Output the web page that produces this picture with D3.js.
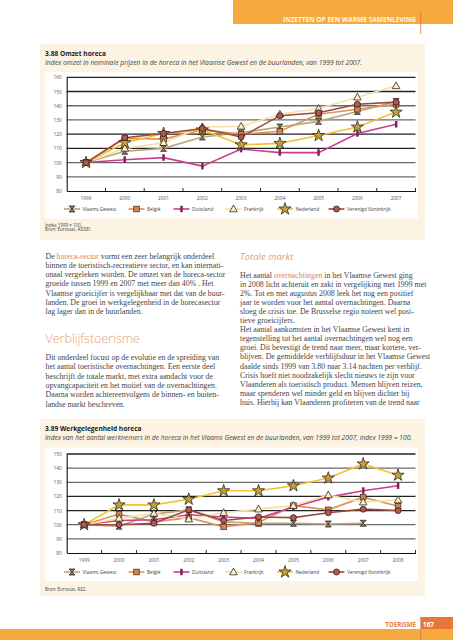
<!DOCTYPE html>
<html><head><meta charset="utf-8">
<script src="https://cdn.jsdelivr.net/npm/d3@7"></script>
<style>body{margin:0;background:#fff}svg{display:block}</style>
</head><body>
<svg id="page" width="453" height="640"></svg>
<script>
// ---------- DATA ----------
const seriesNames = ["Vlaams Gewest","België","Duitsland","Frankrijk","Nederland","Verenigd Koninkrijk"];
const years1 = ["1999","2000","2001","2002","2003","2004","2005","2006","2007"];
const omzetVlaams     = [100,108,110,118,121,125,129,136,143];
const omzetBelgie     = [100,117,116.5,123,120,122,134,137.5,141];
const omzetDuitsland  = [100,102,103.5,97.5,109.5,107,107,120.5,127];
const omzetFrankrijk  = [100,110,114,125,125.5,134,138,146,154];
const omzetNederland  = [100,114,120.5,123,112.5,113.5,119,125,135.5];
const omzetVK         = [100,117.5,120.5,124,118,133,135,141,142.5];
const yTicks1 = [80,90,100,110,120,130,140,150,160];

const years2 = ["1999","2000","2001","2002","2003","2004","2005","2006","2007","2008"];
const werkVlaams    = [100,99,107.5,110.5,102,101,101,100.5,101,null];
const werkBelgie    = [100,107.5,102,105,98.5,101.5,113.5,110.5,119.5,113];
const werkDuitsland = [100,103,103.5,107,105.5,104.5,112.5,119.5,124,127.5];
const werkFrankrijk = [100,104.5,108,104,108.5,111,113.5,121,116,117.5];
const werkNederland = [100,114,114,118,124,124,127.5,133,143,135];
const werkVK        = [100,100,101,110.5,103,105.5,105,108.5,111,110];
const yTicks2 = [80,90,100,110,120,130,140,150];

// ---------- STYLES ----------
const styles = [
  {line:"#bba67a", fill:"#8f7d52", stroke:"#2e2a20", shape:"bowtie"},
  {line:"#e0925a", fill:"#cf8655", stroke:"#5e3018", shape:"square"},
  {line:"#cc3d8f", fill:"#8a1f5c", stroke:"#6a1446", shape:"bar"},
  {line:"#f2e3a6", fill:"#f8efc6", stroke:"#2e2a20", shape:"triangle"},
  {line:"#f2c232", fill:"#c6a03a", stroke:"#2e2a20", shape:"star"},
  {line:"#a0473e", fill:"#b05a55", stroke:"#3e1512", shape:"circle"}
];
const ORANGE = "#f5a93f";
const svg = d3.select("#page");

function marker(g, shape, st, cx, cy){
  let el;
  if(shape==="bowtie"){
    el = g.append("path").attr("d",`M${cx-3},${cy-3}L${cx+3},${cy-3}L${cx-3},${cy+3}L${cx+3},${cy+3}Z`);
  } else if(shape==="square"){
    el = g.append("rect").attr("x",cx-2.8).attr("y",cy-2.8).attr("width",5.6).attr("height",5.6);
  } else if(shape==="bar"){
    el = g.append("rect").attr("x",cx-1).attr("y",cy-3).attr("width",2).attr("height",6);
  } else if(shape==="triangle"){
    el = g.append("path").attr("d",`M${cx},${cy-4}L${cx+3.8},${cy+2.8}L${cx-3.8},${cy+2.8}Z`);
  } else if(shape==="star"){
    const sym = d3.symbol().type(d3.symbolStar).size(46);
    el = g.append("path").attr("d",sym()).attr("transform",`translate(${cx},${cy})`);
  } else {
    el = g.append("circle").attr("cx",cx).attr("cy",cy).attr("r",3);
  }
  el.attr("fill",st.fill).attr("stroke",st.stroke).attr("stroke-width",shape==="bar"?0.4:0.8);
}

function chart(cfg){
  const g = svg.append("g");
  g.append("rect").attr("x",40).attr("y",cfg.boxTop).attr("width",385).attr("height",cfg.boxBottom-cfg.boxTop).attr("fill","#fdf3e2");
  g.append("rect").attr("x",45).attr("y",cfg.whiteTop).attr("width",373).attr("height",cfg.whiteBottom-cfg.whiteTop).attr("fill","#fff");
  g.append("text").attr("x",45).attr("y",cfg.boxTop+12).attr("font-family","Open Sans, sans-serif").attr("font-weight","bold")
    .attr("font-size",6.6).attr("fill","#222").text(cfg.title);
  g.append("text").attr("x",45).attr("y",cfg.boxTop+20.5).attr("font-family","Open Sans, sans-serif").attr("font-style","italic")
    .attr("font-size",6.3).attr("fill","#444").attr("textLength",cfg.subLen).attr("lengthAdjust","spacingAndGlyphs").text(cfg.subtitle);

  const x = d3.scaleBand().domain(cfg.years).range([66.7,415.5]);
  const y = d3.scaleLinear().domain([cfg.yTicks[0], cfg.yTicks[cfg.yTicks.length-1]]).range([cfg.y0, cfg.yTop]);
  g.append("g").selectAll("line").data(cfg.yTicks.slice(1)).join("line")
    .attr("x1",66.7).attr("x2",415.5).attr("y1",d=>y(d)).attr("y2",d=>y(d))
    .attr("stroke",(d,i)=> (Math.floor(i/2)%2===0 ? "#6a6a6a":"#222")).attr("stroke-width",1.3);
  const ay = g.append("g").attr("transform","translate(66.7,0)").call(d3.axisLeft(y).tickValues(cfg.yTicks).tickSize(0).tickPadding(5));
  ay.select(".domain").attr("stroke","#111").attr("stroke-width",1.1);
  ay.selectAll("text").attr("font-family","Open Sans, sans-serif").attr("font-size",4.8).attr("fill","#555");
  const ax = g.append("g").attr("transform",`translate(0,${cfg.y0})`).call(d3.axisBottom(x).tickSize(0).tickPadding(5.5));
  ax.select(".domain").attr("stroke","#111").attr("stroke-width",1.1);
  ax.selectAll("text").attr("font-family","Open Sans, sans-serif").attr("font-size",4.8).attr("fill","#555");
  g.append("g").selectAll("line").data(cfg.years).join("line")
    .attr("x1",d=>x(d)+x.bandwidth()).attr("x2",d=>x(d)+x.bandwidth())
    .attr("y1",cfg.y0).attr("y2",cfg.y0-3).attr("stroke","#111").attr("stroke-width",0.9);

  const cx = d=>x(d)+x.bandwidth()/2;
  cfg.series.forEach((vals,si)=>{
    const st = styles[si];
    const pts = cfg.years.map((yr,i)=>[yr,vals[i]]).filter(p=>p[1]!=null);
    const line = d3.line().x(p=>cx(p[0])).y(p=>y(p[1]));
    g.append("path").attr("d",line(pts)).attr("fill","none").attr("stroke",st.line).attr("stroke-width",1.6);
  });
  cfg.series.forEach((vals,si)=>{
    const st = styles[si];
    const mg = g.append("g");
    cfg.years.forEach((yr,i)=>{ if(vals[i]!=null) marker(mg, st.shape, st, cx(yr), y(vals[i])); });
  });

  const legX = [72,136.5,181.5,233.5,285,336.5];
  seriesNames.forEach((n,si)=>{
    const st = styles[si];
    const lg = g.append("g");
    const mx = legX[si], my = cfg.legY;
    lg.append("line").attr("x1",mx-8).attr("x2",mx+8).attr("y1",my).attr("y2",my).attr("stroke",st.line).attr("stroke-width",1.6);
    marker(lg, st.shape, st, mx, my);
    lg.append("text").attr("x",mx+10.5).attr("y",my+1.7).attr("font-family","Open Sans, sans-serif").attr("font-size",4.8).attr("fill","#444").text(n);
  });
  cfg.notes.forEach((t,i)=>{
    g.append("text").attr("x",45).attr("y",cfg.noteY+i*4.8).attr("font-family","Open Sans, sans-serif").attr("font-size",4.5).attr("fill","#444").text(t);
  });
}

// ---------- HEADER / FOOTER ----------
svg.append("rect").attr("x",233).attr("y",0).attr("width",220).attr("height",24).attr("fill",ORANGE);
svg.append("text").attr("x",416).attr("y",21.5).attr("text-anchor","end").attr("font-family","Open Sans, sans-serif").attr("font-weight","bold")
  .attr("font-size",6.4).attr("fill","#fff6e6").attr("textLength",133).attr("lengthAdjust","spacingAndGlyphs").text("INZETTEN OP EEN WARME SAMENLEVING");
svg.append("line").attr("x1",420.7).attr("x2",420.7).attr("y1",12).attr("y2",34).attr("stroke","#d9743a").attr("stroke-width",0.8);

svg.append("rect").attr("x",0).attr("y",629).attr("width",453).attr("height",11).attr("fill",ORANGE);
svg.append("rect").attr("x",421).attr("y",617).attr("width",32).attr("height",12).attr("fill","#e9773a");
svg.append("line").attr("x1",420.7).attr("x2",420.7).attr("y1",617).attr("y2",640).attr("stroke","#d9743a").attr("stroke-width",0.8);
svg.append("text").attr("x",416).attr("y",627).attr("text-anchor","end").attr("font-family","Open Sans, sans-serif").attr("font-weight","bold")
  .attr("font-size",6.2).attr("fill","#e8803a").text("TOERISME");
svg.append("text").attr("x",423).attr("y",627).attr("font-family","Open Sans, sans-serif").attr("font-weight","bold")
  .attr("font-size",6.4).attr("fill","#fff").text("167");

// ---------- CHARTS ----------
chart({boxTop:44, boxBottom:240, whiteTop:72, whiteBottom:218.5,
  title:"3.88 Omzet horeca",
  subtitle:"Index omzet in nominale prijzen in de horeca in het Vlaamse Gewest en de buurlanden, van 1999 tot 2007.", subLen:317,
  years:years1, yTicks:yTicks1, y0:191, yTop:77.3,
  series:[omzetVlaams,omzetBelgie,omzetDuitsland,omzetFrankrijk,omzetNederland,omzetVK],
  legY:209, notes:["Index 1999 = 100.","Bron: Eurostat, ADSEI."], noteY:226.5});

chart({boxTop:419, boxBottom:596, whiteTop:447.5, whiteBottom:581,
  title:"3.89 Werkgelegenheid horeca",
  subtitle:"Index van het aantal werknemers in de horeca in het Vlaams Gewest en de buurlanden, van 1999 tot 2007, index 1999 = 100.", subLen:367,
  years:years2, yTicks:yTicks2, y0:553, yTop:454,
  series:[werkVlaams,werkBelgie,werkDuitsland,werkFrankrijk,werkNederland,werkVK],
  legY:572, notes:["Bron: Eurostat, RSZ."], noteY:591});

// ---------- BODY TEXT ----------
const leftPara1 = [
 ["De ",["horeca-sector"]," vormt een zeer belangrijk onderdeel"],
 ["binnen de toeristisch-recreatieve sector, en kan internati-"],
 ["onaal vergeleken worden. De omzet van de horeca-sector"],
 ["groeide tussen 1999 en 2007 met meer dan 40% . Het"],
 ["Vlaamse groeicijfer is vergelijkbaar met dat van de buur-"],
 ["landen. De groei in werkgelegenheid in de horecasector"],
 ["lag lager dan in de buurlanden."]
];
const leftPara2 = [
 ["Dit onderdeel focust op de evolutie en de spreiding van"],
 ["het aantal toeristische overnachtingen. Een eerste deel"],
 ["beschrijft de totale markt, met extra aandacht voor de"],
 ["opvangcapaciteit en het motief van de overnachtingen."],
 ["Daarna worden achtereenvolgens de binnen- en buiten-"],
 ["landse markt beschreven."]
];
const rightPara = [
 ["Het aantal ",["overnachtingen"]," in het Vlaamse Gewest ging"],
 ["in 2008 licht achteruit en zakt in vergelijking met 1999 met"],
 ["2%. Tot en met augustus 2008 leek het nog een positief"],
 ["jaar te worden voor het aantal overnachtingen. Daarna"],
 ["sloeg de crisis toe. De Brusselse regio noteert wel posi-"],
 ["tieve groeicijfers."],
 ["Het aantal aankomsten in het Vlaamse Gewest kent in"],
 ["tegenstelling tot het aantal overnachtingen wel nog een"],
 ["groei. Dit bevestigt de trend naar meer, maar kortere, ver-"],
 ["blijven. De gemiddelde verblijfsduur in het Vlaamse Gewest"],
 ["daalde sinds 1999 van 3.80 naar 3.14 nachten per verblijf."],
 ["Crisis hoeft niet noodzakelijk slecht nieuws te zijn voor"],
 ["Vlaanderen als toeristisch product. Mensen blijven reizen,"],
 ["maar spenderen wel minder geld en blijven dichter bij"],
 ["huis. Hierbij kan Vlaanderen profiteren van de trend naar"]
];
function para(lines, x0, y0, dy){
  lines.forEach((parts,i)=>{
    const t = svg.append("text").attr("x",x0).attr("y",y0+i*dy)
      .attr("font-family","Liberation Serif, serif").attr("font-size",7.85).attr("fill","#444");
    parts.forEach(p=>{
      if(Array.isArray(p)) t.append("tspan").attr("fill","#e0834e").text(p[0]);
      else t.append("tspan").text(p);
    });
  });
}
para(leftPara1, 45.5, 258.5, 9.3);
svg.append("text").attr("x",45.5).attr("y",343).attr("font-family","Open Sans, sans-serif").attr("font-weight",300)
  .attr("font-size",12.5).attr("fill","#e6a070").text("Verblijfstoerisme");
para(leftPara2, 45.5, 360, 9.3);
svg.append("text").attr("x",240).attr("y",259.5).attr("font-family","Open Sans, sans-serif").attr("font-style","italic")
  .attr("font-size",9.5).attr("fill","#e6a070").text("Totale markt");
para(rightPara, 240, 277.5, 9.1);
</script>
</body></html>
